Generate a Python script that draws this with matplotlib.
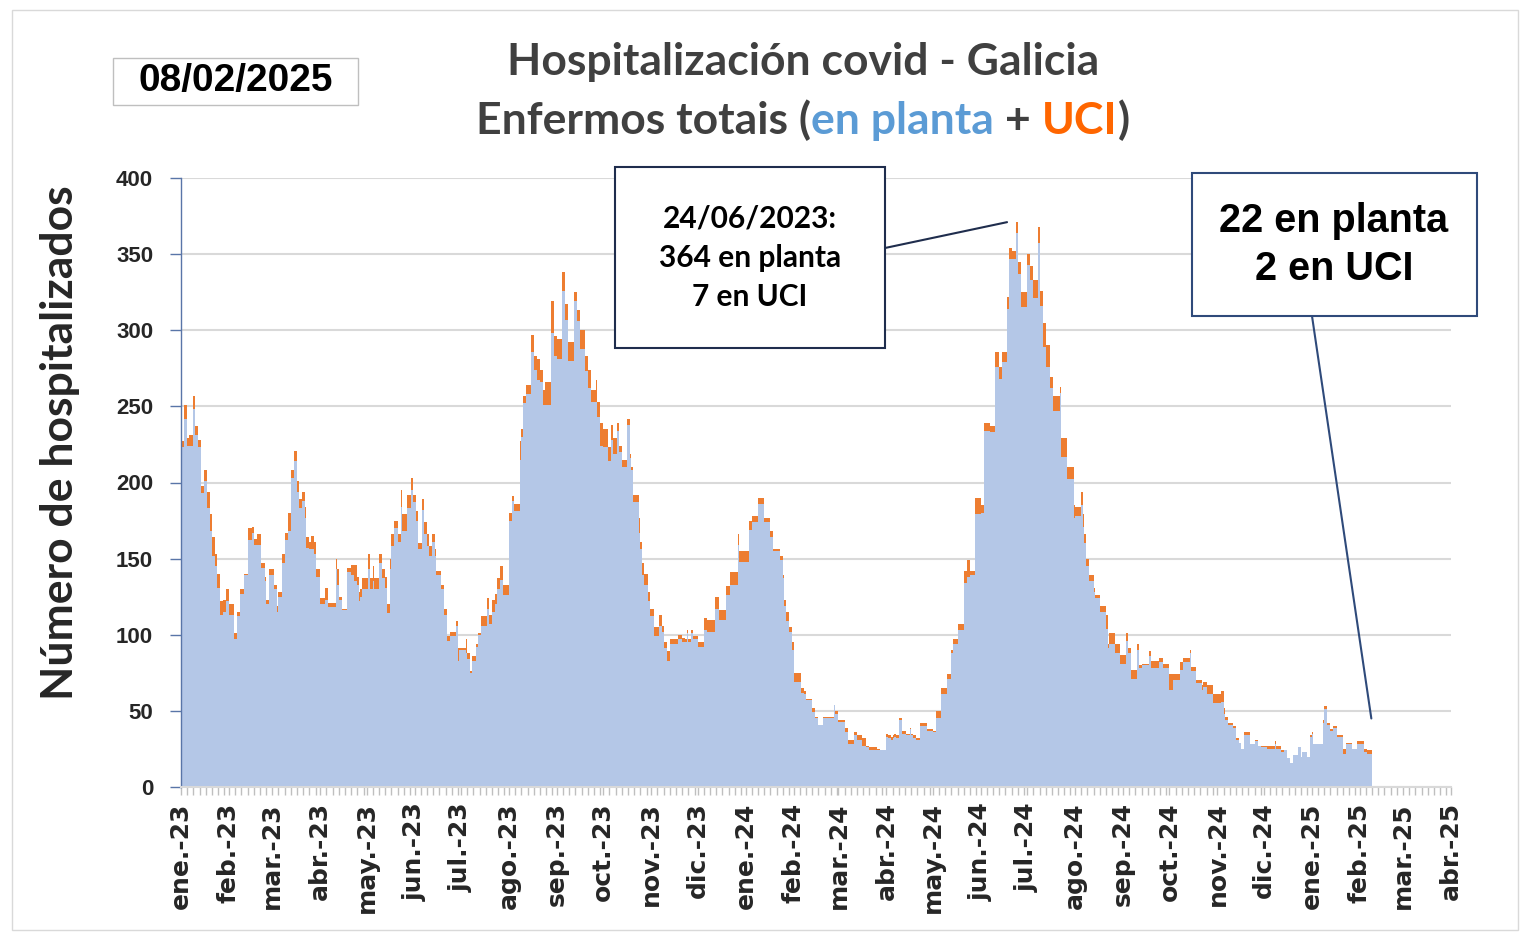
import datetime as dt
import numpy as np
import matplotlib
matplotlib.use("Agg")
import matplotlib.pyplot as plt
import matplotlib.dates as mdates
from matplotlib.patches import Rectangle
from matplotlib.offsetbox import TextArea, HPacker, AnchoredOffsetbox

# pacientes en planta / en UCI, un valor por día (desde 01/01/2023)
planta_ene23 = [223,223,242,242,224,224,224,224,248,231,231,223,223,193,193,201,201,183,183,168,152,152,145,131,131,113,113,115,115,122,122]
uci_ene23 = [4,4,9,9,5,7,7,7,9,6,6,5,5,5,5,7,7,11,11,11,12,12,8,9,9,9,9,8,8,8,8]
planta_feb23 = [113,113,113,97,97,112,112,127,127,127,139,139,162,162,162,167,159,159,159,159,159,144,144,135,120,120,139,139]
uci_feb23 = [7,7,7,4,4,3,3,3,3,3,1,1,8,8,8,4,4,4,7,7,7,3,3,3,3,3,4,4]
planta_mar23 = [139,130,130,115,125,125,147,147,162,162,168,168,203,203,214,214,194,183,183,188,188,177,157,157,156,156,156,153,138,138,138]
uci_mar23 = [4,3,3,4,3,3,6,6,5,5,12,12,5,5,7,7,7,6,6,6,6,7,7,7,5,9,9,8,5,5,5]
planta_abr23 = [120,120,120,123,123,118,118,118,118,118,143,133,123,123,116,116,116,141,141,141,139,139,135,135,133,122,125,130,130,130]
uci_abr23 = [4,4,4,8,8,3,3,3,3,3,7,10,2,2,1,1,1,3,3,3,7,7,11,11,5,6,5,7,7,7]
planta_may23 = [130,143,130,130,135,130,130,130,147,147,137,137,131,114,114,143,158,158,170,170,161,161,184,168,168,168,183,183,183,195,187]
uci_may23 = [7,10,7,7,10,7,7,7,6,6,6,6,7,6,6,7,8,8,5,5,5,5,11,11,11,11,9,9,9,8,5]
planta_jun23 = [187,175,156,156,156,182,166,166,158,152,152,161,161,152,139,139,139,130,130,113,113,96,96,99,99,99,99,106,83,90]
uci_jun23 = [5,6,4,4,4,7,8,8,8,6,6,5,5,4,3,3,3,3,3,4,4,3,3,3,3,3,3,3,8,1]
planta_jul23 = [90,90,90,88,84,84,75,83,83,83,92,100,100,106,106,106,106,117,107,107,115,115,120,130,130,136,136,126,126,126,126]
uci_jul23 = [1,1,1,9,4,4,1,3,3,3,2,1,1,6,6,6,6,7,6,6,8,8,7,7,7,9,9,7,7,7,7]
planta_ago23 = [175,175,188,181,181,181,181,215,230,252,252,258,258,258,286,286,274,274,267,267,266,266,251,251,251,251,251,298,298,283,283]
uci_ago23 = [5,5,3,5,5,5,5,12,5,5,5,6,6,6,11,11,9,9,14,14,8,8,10,15,15,15,15,21,21,13,13]
planta_sep23 = [281,281,281,326,326,307,307,280,280,280,280,319,319,306,306,288,288,288,273,273,262,262,253,253,253,253,243,243,224,224]
uci_sep23 = [13,13,13,12,12,10,10,12,12,12,12,6,6,7,7,12,12,12,10,10,12,12,8,8,8,14,10,10,15,15]
planta_oct23 = [223,223,223,214,214,228,219,219,219,234,220,220,210,210,210,238,238,216,208,187,187,187,187,167,156,139,133,133,133,122,112]
uci_oct23 = [12,12,12,9,9,10,10,10,10,5,4,4,5,5,5,4,4,3,2,5,5,5,5,10,5,8,7,7,7,6,5]
planta_nov23 = [112,112,99,99,99,106,106,102,91,91,83,83,94,94,94,94,94,97,97,97,95,95,95,101,95,95,101,97,97,97]
uci_nov23 = [5,5,6,6,6,7,7,4,4,4,6,6,3,3,3,3,3,3,3,3,3,3,2,2,2,2,2,2,2,2]
planta_dic23 = [92,92,92,92,103,103,102,102,102,102,102,117,117,117,110,110,110,110,126,126,126,133,133,133,133,133,159,148,148,148,148]
uci_dic23 = [3,3,3,3,8,8,8,8,8,8,8,8,8,8,6,6,6,6,6,6,6,8,8,8,8,8,7,7,7,7,7]
planta_ene24 = [148,148,169,169,174,174,174,174,186,186,186,186,174,174,174,174,164,164,155,155,155,155,149,149,137,119,109,109,102,102,90]
uci_ene24 = [7,7,6,6,4,4,4,4,4,4,4,4,3,3,3,3,4,4,1,1,1,1,3,3,2,4,6,6,3,3,5]
planta_feb24 = [69,69,69,69,69,62,62,61,57,57,57,57,49,49,45,45,41,41,41,45,45,45,45,45,45,45,54,48,48]
uci_feb24 = [6,6,6,6,6,3,3,2,1,1,1,1,3,3,1,1,0,0,0,1,1,1,1,1,1,1,0,2,2]
planta_mar24 = [43,43,43,43,36,36,28,28,28,28,34,34,31,31,31,27,27,27,26,26,24,24,24,24,24,24,24,24,24,24,24]
uci_mar24 = [1,1,1,1,3,3,3,3,3,3,2,2,3,3,3,5,5,5,1,1,2,2,2,2,2,1,1,0,0,0,0]
planta_abr24 = [33,32,32,31,32,33,32,32,44,44,35,35,35,34,34,38,34,32,32,31,31,31,40,40,40,40,37,37,37,37]
uci_abr24 = [2,2,2,2,2,2,2,2,1,1,2,2,2,1,1,1,1,2,2,1,1,1,2,2,2,2,1,1,1,1]
planta_may24 = [36,36,45,45,45,61,61,61,61,71,71,71,88,94,94,94,103,103,103,103,134,134,138,138,139,139,139,179,179,179,179]
uci_may24 = [1,1,5,5,5,4,4,4,4,3,3,3,2,3,3,3,4,4,4,4,8,8,11,11,3,3,3,11,11,11,11]
planta_jun24 = [180,180,234,234,234,234,233,233,233,276,276,276,268,268,279,279,279,314,347,347,347,347,347,364,337,337,315,315,315,315]
uci_jun24 = [5,5,5,5,5,5,4,4,4,10,10,10,8,8,7,7,7,8,7,7,5,5,5,7,8,8,10,10,10,10]
planta_jul24 = [343,343,333,333,321,321,321,357,316,316,289,289,276,276,276,262,262,247,247,247,247,259,217,217,217,217,202,202,202,202,177]
uci_jul24 = [7,7,9,9,12,12,12,11,10,10,16,16,14,14,14,7,7,10,10,10,10,4,12,12,12,12,8,8,8,8,8]
planta_ago24 = [178,178,178,178,185,171,160,145,145,135,135,135,128,124,124,124,115,115,115,115,104,91,94,94,94,94,88,88,88,81,81]
uci_ago24 = [6,6,6,6,9,8,6,5,5,4,4,4,3,2,2,2,4,4,4,4,9,3,7,7,7,7,6,6,6,6,6]
planta_sep24 = [81,81,96,88,88,71,71,71,71,90,78,78,80,80,80,80,80,86,78,78,78,78,78,82,82,82,78,78,78,78]
uci_sep24 = [6,6,5,3,3,6,6,6,6,4,2,2,1,1,1,1,1,3,5,5,5,5,5,3,3,3,3,3,3,3]
planta_oct24 = [64,64,70,70,70,70,70,77,77,82,82,82,82,88,76,76,76,68,68,68,68,64,66,66,61,61,61,61,55,55,55]
uci_oct24 = [10,10,4,4,4,4,4,5,5,3,3,3,3,2,3,3,3,2,2,2,2,3,3,3,6,6,6,6,6,6,6]
planta_nov24 = [55,55,56,56,48,44,44,41,41,41,39,39,31,31,29,25,25,34,34,34,34,28,28,28,30,30,27,27,26,26]
uci_nov24 = [6,6,7,7,4,2,2,1,1,1,1,1,1,1,0,0,0,2,2,2,2,0,0,0,1,1,0,0,1,1]
planta_dic24 = [26,26,25,25,25,25,25,28,25,25,25,23,23,24,24,19,19,16,16,21,21,21,26,26,20,23,23,23,20,20,33]
uci_dic24 = [1,1,2,2,2,2,2,2,2,2,2,1,1,0,0,0,0,0,0,0,0,0,0,0,0,0,0,0,0,0,1]
planta_ene25 = [35,28,28,28,28,28,28,42,51,51,41,41,37,37,39,39,33,33,33,33,22,22,28,28,28,28,25,25,25,28,28]
uci_ene25 = [1,0,0,0,0,0,0,2,2,2,1,1,1,1,1,1,1,1,1,1,3,3,1,1,1,1,0,0,0,2,2]
planta_feb25 = [28,28,28,23,23,22,22,22]
uci_feb25 = [2,2,2,2,2,2,2,2]

tick_labels = ["ene.-23", "feb.-23", "mar.-23", "abr.-23", "may.-23", "jun.-23",
               "jul.-23", "ago.-23", "sep.-23", "oct.-23", "nov.-23", "dic.-23",
               "ene.-24", "feb.-24", "mar.-24", "abr.-24", "may.-24", "jun.-24",
               "jul.-24", "ago.-24", "sep.-24", "oct.-24", "nov.-24", "dic.-24",
               "ene.-25", "feb.-25", "mar.-25", "abr.-25"]

planta = np.array(planta_ene23 + planta_feb23 + planta_mar23 + planta_abr23 + planta_may23 + planta_jun23 +
                  planta_jul23 + planta_ago23 + planta_sep23 + planta_oct23 + planta_nov23 + planta_dic23 +
                  planta_ene24 + planta_feb24 + planta_mar24 + planta_abr24 + planta_may24 + planta_jun24 +
                  planta_jul24 + planta_ago24 + planta_sep24 + planta_oct24 + planta_nov24 + planta_dic24 +
                  planta_ene25 + planta_feb25)
uci = np.array(uci_ene23 + uci_feb23 + uci_mar23 + uci_abr23 + uci_may23 + uci_jun23 +
               uci_jul23 + uci_ago23 + uci_sep23 + uci_oct23 + uci_nov23 + uci_dic23 +
               uci_ene24 + uci_feb24 + uci_mar24 + uci_abr24 + uci_may24 + uci_jun24 +
               uci_jul24 + uci_ago24 + uci_sep24 + uci_oct24 + uci_nov24 + uci_dic24 +
               uci_ene25 + uci_feb25)

inicio = dt.date(2023, 1, 1)
dias = [inicio + dt.timedelta(days=i) for i in range(len(planta))]
x = mdates.date2num(dias)

W, H = 1528, 939
def fx(px):
    return px / W
def fy(py):
    return 1 - py / H

fig = plt.figure(figsize=(W / 100, H / 100), dpi=100)
ax = fig.add_axes([fx(181), fy(787), fx(1451) - fx(181), fy(178) - fy(787)])

azul = "#B4C7E7"
laranxa = "#ED7D31"
ax.bar(x, planta, width=1, align="edge", color=azul, linewidth=0, antialiased=False, zorder=2)
ax.bar(x, uci, width=1, align="edge", bottom=planta, color=laranxa, linewidth=0, antialiased=False, zorder=2)

meses = [dt.date(2023 + (m // 12), m % 12 + 1, 1) for m in range(len(tick_labels))]
ax.set_xlim(mdates.date2num(meses[0]), mdates.date2num(meses[-1]))
ax.set_xticks(mdates.date2num(meses))
ax.set_xticklabels(tick_labels, rotation=90, fontsize=18, fontweight="bold",
                   color="#262626", family=["DejaVu Sans"])
ax.xaxis.set_minor_locator(mdates.DayLocator(bymonthday=[5, 9, 13, 17, 21, 25, 29]))
ax.tick_params(axis="x", which="both", length=6, color="#BFBFBF", width=1, pad=5)

ax.set_ylim(0, 400)
ax.set_yticks(range(0, 401, 50))
ax.set_yticklabels([str(v) for v in range(0, 401, 50)], fontsize=16, fontweight="bold",
                   color="#262626", family=["Liberation Sans"])
ax.tick_params(axis="y", length=8, color="#5975A8", width=1, pad=12)
ax.yaxis.grid(True, color="#D9D9D9", linewidth=1.5)
ax.set_axisbelow(True)
for s in ["top", "right"]:
    ax.spines[s].set_visible(False)
ax.spines["bottom"].set_color("#D9D9D9")
ax.spines["bottom"].set_linewidth(1.5)
ax.spines["left"].set_color("#5975A8")
ax.spines["left"].set_linewidth(1)

# eixe Y
fig.text(fx(60), fy(443), "Número de hospitalizados", rotation=90, ha="center", va="center",
         fontsize=32, fontweight="bold", color="#262626", family=["Lato", "DejaVu Sans"])

# título
fig.text(fx(803), fy(62), "Hospitalización covid - Galicia", ha="center", va="center",
         fontsize=32, fontweight="bold", color="#404040", family=["Lato", "DejaVu Sans"])
props = dict(fontsize=32, fontweight="bold", family=["Lato", "DejaVu Sans"])
partes = [("Enfermos totais (", "#404040"), ("en planta", "#5B9BD5"), (" + ", "#404040"),
          ("UCI", "#FF6600"), (")", "#404040")]
caixas = [TextArea(t, textprops=dict(color=c, **props)) for t, c in partes]
fila = HPacker(children=caixas, align="baseline", pad=0, sep=0)
ab = AnchoredOffsetbox(loc="center", child=fila, pad=0, borderpad=0, frameon=False,
                       bbox_to_anchor=(fx(803), fy(120)), bbox_transform=fig.transFigure)
fig.add_artist(ab)

# data
fig.add_artist(Rectangle((fx(113), fy(105)), fx(358) - fx(113), fy(58) - fy(105),
                         transform=fig.transFigure, fill=False, edgecolor="#BFBFBF", linewidth=1))
fig.text(fx(236), fy(81), "08/02/2025", ha="center", va="center", fontsize=28,
         fontweight="bold", color="black", family=["Liberation Sans"])

# caixa pico
fig.add_artist(Rectangle((fx(615), fy(348)), fx(885) - fx(615), fy(167) - fy(348),
                         transform=fig.transFigure, facecolor="white", edgecolor="#1F2D4D",
                         linewidth=1.5, zorder=5))
fig.text(fx(750), fy(258), "24/06/2023:\n364 en planta\n7 en UCI", ha="center", va="center",
         fontsize=21.5, fontweight="bold", color="black", linespacing=1.5,
         family=["Lato", "DejaVu Sans"], zorder=6)
ax.annotate("", xy=(mdates.date2num(dt.date(2024, 6, 18)), 371), xycoords="data",
            xytext=(fx(885), fy(248)), textcoords="figure fraction",
            arrowprops=dict(arrowstyle="-", color="#1F2D4D", lw=1.5, shrinkA=0, shrinkB=0),
            annotation_clip=False)

# caixa último día
fig.add_artist(Rectangle((fx(1192), fy(316)), fx(1477) - fx(1192), fy(173) - fy(316),
                         transform=fig.transFigure, facecolor="white", edgecolor="#2F4A7A",
                         linewidth=1.5, zorder=5))
fig.text(fx(1334), fy(245), "22 en planta\n2 en UCI", ha="center", va="center",
         fontsize=28.5, fontweight="bold", color="black", linespacing=1.3,
         family=["Liberation Sans"], zorder=6)
ax.annotate("", xy=(x[-1] + 0.5, 45), xycoords="data",
            xytext=(fx(1312), fy(316)), textcoords="figure fraction",
            arrowprops=dict(arrowstyle="-", color="#2F4A7A", lw=1.5, shrinkA=0, shrinkB=0),
            annotation_clip=False)

# marco exterior
fig.add_artist(Rectangle((fx(12), fy(930)), fx(1518) - fx(12), fy(10) - fy(930),
                         transform=fig.transFigure, fill=False, edgecolor="#D9D9D9", linewidth=1))

fig.savefig("out.png", dpi=100)
